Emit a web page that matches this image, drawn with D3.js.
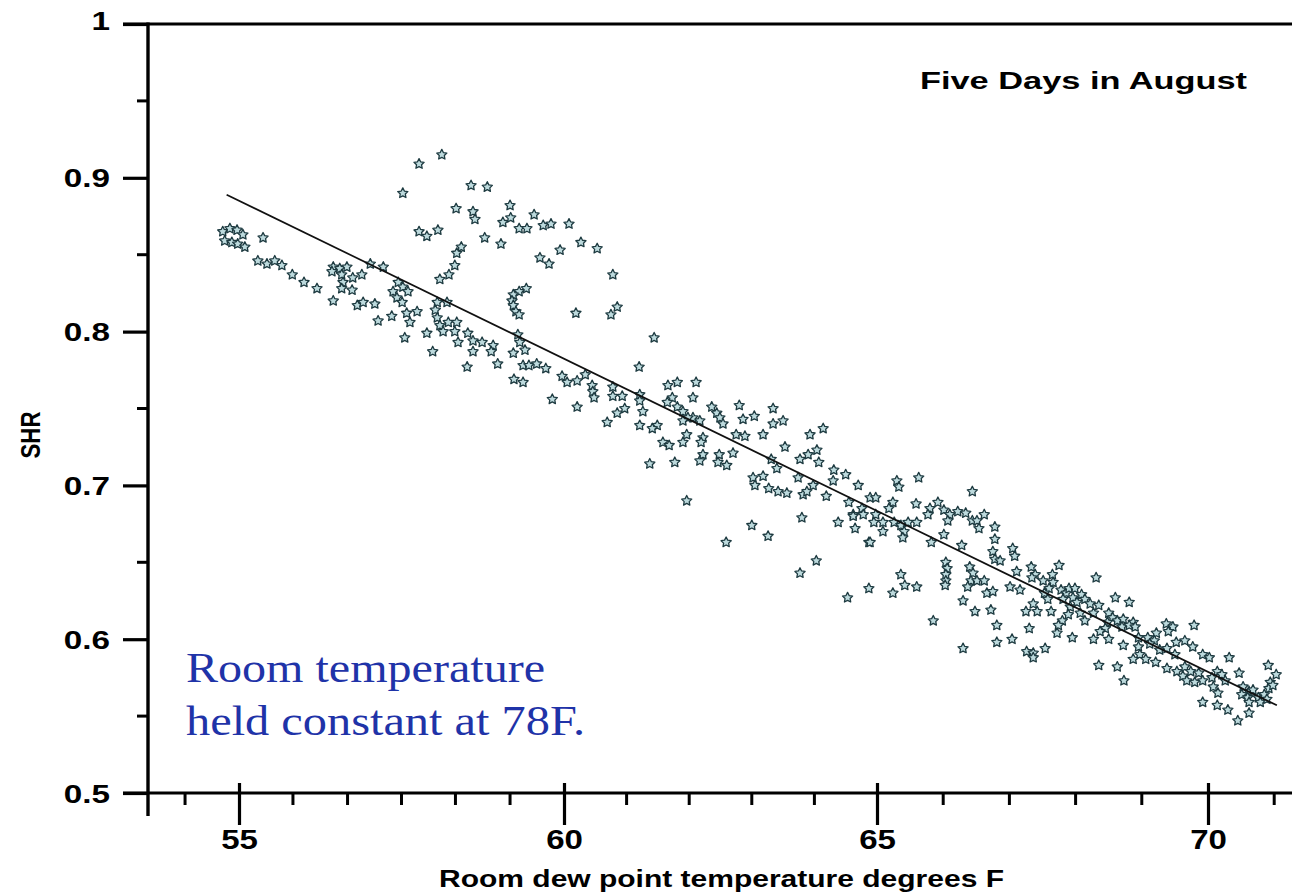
<!DOCTYPE html>
<html><head><meta charset="utf-8">
<script src="https://cdn.jsdelivr.net/npm/d3@7"></script>
<style>body{margin:0;background:#fff}svg{display:block}</style>
</head><body>
<svg id="chart" width="1292" height="892"></svg>
<script>
// ---- DATA ----
const dewPoint = [
54.75,54.86,54.97,55.06,54.78,54.89,54.98,55.09,55.37,55.29,
55.43,55.55,55.66,55.82,56.00,56.20,56.45,56.45,56.55,56.66,
56.43,56.58,56.75,56.89,56.60,56.74,56.58,57.02,57.22,56.82,
56.91,57.09,57.14,57.35,57.45,57.52,57.37,57.60,57.43,57.51,
57.58,57.74,57.63,57.55,58.05,58.20,58.02,58.05,58.09,58.22,
58.35,58.14,58.32,58.37,57.89,57.98,58.52,58.60,58.60,58.51,
58.12,57.77,57.52,58.57,58.34,58.60,58.63,57.77,57.89,58.06,
58.42,58.35,58.32,58.23,58.09,58.82,59.17,59.06,59.18,58.78,
59.03,59.31,59.43,59.54,59.68,59.80,60.08,60.27,60.53,59.94,
59.63,59.77,60.78,59.42,59.31,59.22,59.20,59.22,59.26,59.31,
60.19,60.85,60.75,61.44,58.74,58.91,58.88,58.98,59.29,59.32,
59.40,59.22,59.37,59.46,59.58,59.72,59.23,59.37,59.82,59.97,
60.05,60.21,60.34,60.45,60.46,60.48,60.21,60.69,60.78,60.78,
60.93,60.85,60.97,61.20,61.21,61.21,61.26,61.21,61.49,61.66,
61.81,62.11,61.73,61.65,61.81,62.06,61.90,62.06,62.17,62.36,
62.44,61.41,61.98,61.90,62.49,62.54,62.80,63.04,62.86,63.34,
63.50,63.34,62.75,62.89,63.18,63.93,64.14,61.96,61.90,62.22,
62.19,61.58,61.68,61.37,61.77,62.17,62.22,62.48,62.46,62.60,
62.70,63.53,63.77,63.90,64.04,64.07,63.31,63.40,63.02,63.18,
63.05,63.27,63.42,63.56,63.74,63.82,63.88,63.98,64.19,64.31,
64.30,64.50,64.70,64.55,64.62,64.65,64.38,63.80,61.96,63.00,
63.26,62.59,64.03,63.77,64.53,64.87,
65.30,65.33,65.63,64.89,64.98,65.24,65.18,64.76,64.78,64.62,
64.98,64.95,65.09,65.26,65.09,65.36,65.47,65.60,65.41,65.39,
65.59,64.89,65.82,65.80,65.92,66.01,66.10,66.22,66.34,66.44,
66.51,66.62,65.77,66.07,66.44,66.01,66.28,66.54,66.78,66.78,
66.75,66.78,66.86,67.05,67.08,66.04,66.06,66.04,66.04,66.03,
66.40,66.45,66.42,66.37,66.51,66.62,66.66,66.75,65.36,65.42,
65.60,65.24,64.87,65.85,66.30,66.48,66.72,66.81,66.81,67.04,
66.30,67.01,67.16,67.11,67.33,67.39,67.34,67.51,67.65,67.75,
67.66,67.60,67.53,67.58,67.36,67.25,67.42,67.63,67.30,67.26,
67.36,67.36,67.54,67.78,67.86,67.90,67.99,67.96,68.02,67.92,
67.80,67.74,67.72,67.95,68.07,
68.31,68.09,67.81,68.14,68.22,68.35,67.89,68.14,68.60,68.81,
68.27,68.50,68.56,68.48,68.63,68.72,68.87,68.45,68.70,68.81,
68.90,68.37,68.27,68.50,68.72,68.35,68.63,68.73,68.95,69.09,
69.22,69.37,69.47,69.40,69.19,69.12,68.95,68.97,68.87,69.06,
69.21,69.27,69.38,69.52,69.65,69.79,69.50,69.38,69.53,69.62,
69.65,69.77,69.92,70.02,69.74,69.86,69.68,69.80,69.92,70.06,
70.14,70.21,70.26,70.08,70.15,70.32,70.47,70.53,70.62,70.68,
70.51,70.60,70.76,70.79,70.62,70.62,70.30,70.45,69.92,70.14,
70.91,71.03,70.94,70.92,70.85,70.89,70.98
];
const shr = [
.865,.867,.866,.863,.859,.858,.857,.855,.861,.846,
.844,.846,.843,.837,.832,.828,.820,.842,.841,.842,
.839,.837,.835,.837,.832,.827,.828,.844,.842,.817,
.819,.818,.807,.810,.832,.829,.826,.826,.822,.819,
.812,.813,.806,.796,.819,.819,.814,.809,.804,.806,
.806,.800,.800,.793,.799,.787,.799,.794,.787,.777,
.915,.909,.890,.895,.880,.878,.873,.865,.862,.866,
.855,.851,.843,.837,.834,.894,.882,.871,.874,.861,
.857,.867,.867,.876,.869,.870,.870,.858,.854,.853,
.848,.844,.837,.828,.826,.824,.820,.817,.813,.811,
.812,.816,.811,.796,.793,.791,.787,.779,.798,.793,
.788,.786,.778,.778,.779,.776,.769,.767,.756,.771,
.767,.768,.772,.765,.761,.757,.751,.741,.764,.758,
.758,.747,.750,.777,.759,.755,.748,.739,.739,.765,
.767,.767,.757,.754,.751,.757,.748,.744,.742,.751,
.747,.737,.744,.742,.744,.740,.752,.745,.743,.750,
.742,.740,.733,.732,.733,.733,.737,.733,.728,.731,
.728,.728,.726,.714,.715,.716,.720,.720,.715,.713,
.721,.725,.717,.720,.723,.715,.717,.711,.705,.706,
.700,.698,.696,.695,.705,.694,.696,.700,.693,.710,
.703,.707,.700,.689,.681,.672,.676,.679,.690,.674,
.667,.663,.651,.643,.627,.663,
.703,.699,.705,.692,.692,.689,.685,.685,.681,.680,
.681,.676,.676,.676,.670,.674,.676,.676,.670,.666,
.688,.663,.663,.685,.689,.684,.681,.683,.682,.677,
.677,.681,.681,.677,.696,.668,.661,.672,.673,.665,
.657,.652,.651,.659,.654,.650,.646,.642,.638,.635,
.647,.643,.638,.634,.638,.638,.630,.631,.642,.635,
.634,.630,.633,.612,.625,.618,.619,.609,.598,.600,
.594,.634,.632,.644,.647,.642,.640,.638,.642,.648,
.637,.633,.630,.626,.623,.618,.618,.618,.607,.592,
.591,.588,.594,.632,.630,.633,.633,.627,.624,.621,
.612,.609,.604,.601,.617,
.640,.629,.626,.626,.623,.622,.616,.612,.627,.624,
.617,.617,.614,.611,.612,.613,.611,.607,.608,.609,
.608,.605,.600,.600,.596,.583,.582,.573,.601,.601,
.604,.610,.608,.605,.599,.597,.595,.590,.587,.587,
.585,.593,.594,.598,.599,.609,.590,.581,.579,.576,
.582,.595,.590,.588,.579,.578,.573,.572,.573,.575,
.579,.577,.573,.569,.565,.588,.578,.569,.566,.567,
.564,.562,.562,.559,.559,.552,.554,.547,.559,.557,
.583,.577,.572,.568,.564,.561,.570
];
const fitDewPoint = [54.81, 71.04];
const fitShr = [0.889, 0.557];
const xMajorTicks = [55, 60, 65, 70];
const xMinorTicks = [54.17, 55.83, 56.67, 57.5, 58.33, 59.17, 61, 62, 63, 64, 66, 67, 68, 69, 71];
const yMajorTicks = [0.5, 0.6, 0.7, 0.8, 0.9, 1];
const yMinorTicks = [0.55, 0.65, 0.75, 0.85, 0.95];
const yTickLabels = ["0.5", "0.6", "0.7", "0.8", "0.9", "1"];
const chartTitle = "Five Days in August";
const xTitle = "Room dew point temperature degrees F";
const yTitle = "SHR";
const noteLines = ["Room temperature", "held constant at 78F."];

// ---- SCALES ----
const svg = d3.select("#chart");
const x = d3.scaleLinear().domain([55, 60, 65, 70]).range([239, 564, 877, 1208]);
const y = d3.scaleLinear().domain([0.5, 1]).range([793, 24]);
const axisX = 148, axisY = y(0.5), topY = y(1);
const ink = "#000";

// frame lines
svg.append("line").attr("x1", 123).attr("x2", 1300).attr("y1", topY).attr("y2", topY)
  .attr("stroke", ink).attr("stroke-width", 3.2);
svg.append("line").attr("x1", axisX).attr("x2", axisX).attr("y1", topY - 1.5).attr("y2", 816)
  .attr("stroke", ink).attr("stroke-width", 3.4);
svg.append("line").attr("x1", 123).attr("x2", 1300).attr("y1", axisY).attr("y2", axisY)
  .attr("stroke", ink).attr("stroke-width", 3.2);

// y axis via d3
const yAxis = d3.axisLeft(y).tickValues(yMajorTicks).tickSize(25)
  .tickFormat((d, i) => yTickLabels[i]);
const gy = svg.append("g").attr("transform", `translate(${axisX},0)`).call(yAxis);
gy.select(".domain").remove();
gy.selectAll(".tick line").attr("stroke", ink).attr("stroke-width", 3.2);
const ySX = 1.33;
gy.selectAll(".tick text")
  .attr("x", -38 / ySX).attr("dy", "0.36em")
  .attr("transform", `scale(${ySX},1)`)
  .attr("fill", ink)
  .style("font-family", "'Liberation Sans', Arial, sans-serif")
  .style("font-weight", "bold").style("font-size", "25px");
gy.selectAll(".tick").filter(d => d === 1).select("text").attr("dy", "0.2em");
svg.append("g").selectAll("line").data(yMinorTicks).join("line")
  .attr("x1", axisX - 11).attr("x2", axisX).attr("y1", d => y(d)).attr("y2", d => y(d))
  .attr("stroke", ink).attr("stroke-width", 3);

// x axis via d3
const xAxis = d3.axisBottom(x).tickValues(xMajorTicks).tickSize(32).tickFormat(d3.format("d"));
const gx = svg.append("g").attr("transform", `translate(0,${axisY})`).call(xAxis);
gx.select(".domain").remove();
gx.selectAll(".tick line").attr("y1", -10).attr("stroke", ink).attr("stroke-width", 3.2);
gx.selectAll(".tick text")
  .attr("y", 56).attr("dy", 0)
  .attr("transform", "scale(1.18,1)")
  .attr("fill", ink)
  .style("font-family", "'Liberation Sans', Arial, sans-serif")
  .style("font-weight", "bold").style("font-size", "28px");
svg.append("g").selectAll("line").data(xMinorTicks).join("line")
  .attr("x1", d => x(d)).attr("x2", d => x(d)).attr("y1", axisY).attr("y2", axisY + 12)
  .attr("stroke", ink).attr("stroke-width", 3);

// titles
const sans = "'Liberation Sans', Arial, sans-serif";
svg.append("text").text(chartTitle).attr("x", 920).attr("y", 89)
  .attr("textLength", 327).attr("lengthAdjust", "spacingAndGlyphs")
  .style("font-family", sans).style("font-weight", "bold").style("font-size", "23px").attr("fill", ink);
svg.append("text").text(xTitle).attr("x", 439).attr("y", 887)
  .attr("textLength", 565).attr("lengthAdjust", "spacingAndGlyphs")
  .style("font-family", sans).style("font-weight", "bold").style("font-size", "24px").attr("fill", ink);
svg.append("text").text(yTitle)
  .attr("transform", "translate(40,435) rotate(-90)").attr("text-anchor", "middle")
  .attr("textLength", 47).attr("lengthAdjust", "spacingAndGlyphs")
  .style("font-family", sans).style("font-weight", "bold").style("font-size", "27px").attr("fill", ink);

// scatter: fat five-point star symbol (inner/outer ratio 0.5)
const fatStar = {
  draw(ctx, size) {
    const r = Math.sqrt(size / 1.2), ri = r * 0.5;
    for (let k = 0; k < 10; k++) {
      const a = -Math.PI / 2 + k * Math.PI / 5, rr = k % 2 ? ri : r;
      const px = rr * Math.cos(a), py = rr * Math.sin(a);
      k ? ctx.lineTo(px, py) : ctx.moveTo(px, py);
    }
    ctx.closePath();
  }
};
const star = d3.symbol(fatStar).size(34);
svg.append("g").selectAll("path").data(d3.range(dewPoint.length)).join("path")
  .attr("d", star)
  .attr("transform", i => `translate(${x(dewPoint[i])},${y(shr[i])})`)
  .attr("fill", "#bddadd").attr("stroke", "#1d3a40").attr("stroke-width", 1.3)
  .attr("stroke-linejoin", "round");

// fit line
svg.append("line")
  .attr("x1", x(fitDewPoint[0])).attr("y1", y(fitShr[0]))
  .attr("x2", x(fitDewPoint[1])).attr("y2", y(fitShr[1]))
  .attr("stroke", "#111").attr("stroke-width", 1.7);

// annotation
const noteLens = [359, 399];
svg.append("g").selectAll("text").data(noteLines).join("text")
  .text(d => d).attr("x", 186).attr("y", (d, i) => 682 + i * 53)
  .attr("textLength", (d, i) => noteLens[i]).attr("lengthAdjust", "spacingAndGlyphs")
  .style("font-family", "'Liberation Serif', 'Times New Roman', serif")
  .style("font-size", "42px").attr("fill", "#1f33a8");
</script>
</body></html>
